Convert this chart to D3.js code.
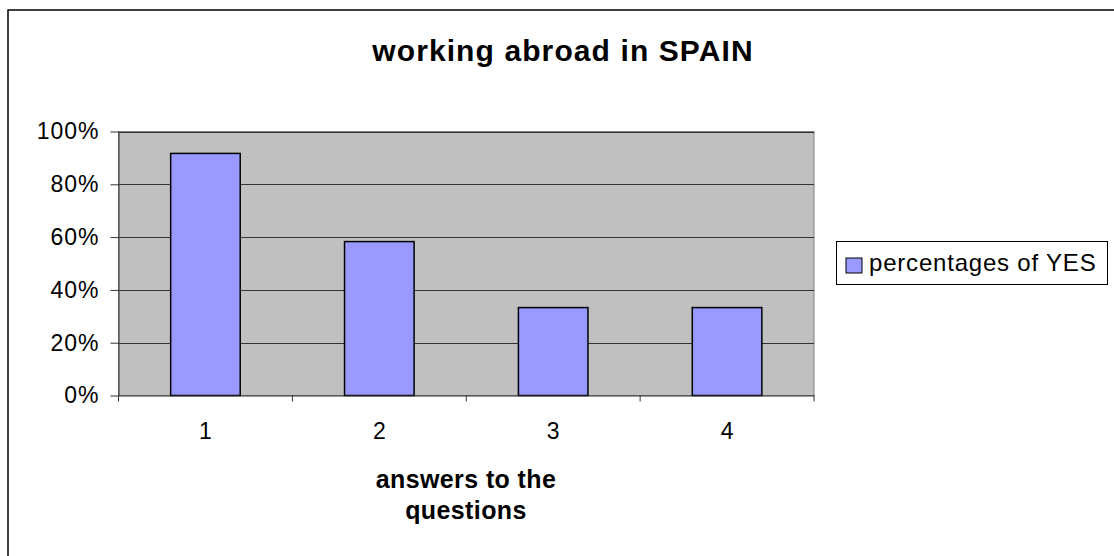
<!DOCTYPE html>
<html>
<head>
<meta charset="utf-8">
<script src="https://cdn.jsdelivr.net/npm/d3@7"></script>
<style>
  html, body { margin: 0; padding: 0; background: #fff; }
  svg { display: block; font-family: Arial, "Liberation Sans", sans-serif; }
</style>
</head>
<body>
<svg id="chart" width="1114" height="556"></svg>
<script>
const categories = ["1", "2", "3", "4"];
const yesValues = [0.917, 0.583, 0.333, 0.333];
const yTickValues = [0, 0.2, 0.4, 0.6, 0.8, 1.0];
const yTickLabels = ["0%", "20%", "40%", "60%", "80%", "100%"];
const seriesName = "percentages of YES";
const chartTitle = "working abroad in SPAIN";
const xTitleLines = ["answers to the", "questions"];

const svg = d3.select("#chart");
const plot = { left: 118.5, right: 814, top: 131.5, bottom: 395.5 };

// outer chart border (extends beyond the picture on right and bottom)
svg.append("rect")
  .attr("x", 8).attr("y", 10).attr("width", 1130).attr("height", 570)
  .attr("fill", "#fff").attr("stroke", "#000").attr("stroke-width", 1.5);

const x = d3.scaleBand().domain(categories)
  .range([plot.left, plot.right]).paddingInner(0.6).paddingOuter(0.3);
const y = d3.scaleLinear().domain([0, 1]).range([plot.bottom, plot.top]);

// plot area
svg.append("rect")
  .attr("x", plot.left).attr("y", plot.top)
  .attr("width", plot.right - plot.left).attr("height", plot.bottom - plot.top)
  .attr("fill", "#c0c0c0").attr("stroke", "#808080").attr("stroke-width", 1);

// gridlines
svg.append("g").selectAll("line").data(yTickValues.filter(v => v > 0)).join("line")
  .attr("x1", plot.left).attr("x2", plot.right)
  .attr("y1", d => Math.round(y(d)) + 0.5).attr("y2", d => Math.round(y(d)) + 0.5)
  .attr("stroke", "#333").attr("stroke-width", 1);

// bars
svg.append("g").selectAll("rect").data(categories).join("rect")
  .attr("x", d => x(d)).attr("width", x.bandwidth())
  .attr("y", (d, i) => y(yesValues[i]))
  .attr("height", (d, i) => y(0) - y(yesValues[i]))
  .attr("fill", "#9999ff").attr("stroke", "#000").attr("stroke-width", 1.5);

// y axis
const yAxis = d3.axisLeft(y).tickValues(yTickValues)
  .tickFormat((d, i) => yTickLabels[i]).tickSizeInner(8).tickSizeOuter(0).tickPadding(11);
const gy = svg.append("g").attr("transform", `translate(${plot.left},0)`).call(yAxis);
gy.select(".domain").attr("stroke", "#333");
gy.selectAll(".tick line").attr("stroke", "#333");
gy.selectAll(".tick text").attr("font-size", 23).attr("letter-spacing", 1).attr("fill", "#000")
  .attr("font-family", "Arial, 'Liberation Sans', sans-serif");

// x axis
const xAxis = d3.axisBottom(x).tickSize(0).tickPadding(27);
const gx = svg.append("g").attr("transform", `translate(0,${plot.bottom})`).call(xAxis);
gx.select(".domain").attr("stroke", "#333");
gx.selectAll(".tick text").attr("font-size", 23).attr("fill", "#000")
  .attr("font-family", "Arial, 'Liberation Sans', sans-serif");
// boundary tick marks between categories
const bounds = d3.range(categories.length + 1).map(i => plot.left + i * x.step());
gx.append("g").selectAll("line").data(bounds).join("line")
  .attr("x1", d => d).attr("x2", d => d).attr("y1", 0).attr("y2", 6)
  .attr("stroke", "#333");

// title
svg.append("text").attr("x", 563).attr("y", 61).attr("text-anchor", "middle")
  .attr("font-size", 30).attr("letter-spacing", 1.1).attr("font-weight", "bold").text(chartTitle);

// x axis title
svg.append("g").selectAll("text").data(xTitleLines).join("text")
  .attr("x", 466).attr("y", (d, i) => 488 + i * 31).attr("text-anchor", "middle")
  .attr("font-size", 25).attr("letter-spacing", 0.4).attr("font-weight", "bold").text(d => d);

// legend
const lg = svg.append("g");
lg.append("rect").attr("x", 836.5).attr("y", 241.5).attr("width", 271).attr("height", 43)
  .attr("fill", "#fff").attr("stroke", "#000").attr("stroke-width", 1);
lg.append("rect").attr("x", 846).attr("y", 258).attr("width", 16).attr("height", 15)
  .attr("fill", "#9999ff").attr("stroke", "#000").attr("stroke-width", 1);
lg.append("text").attr("x", 869).attr("y", 271).attr("font-size", 24).attr("letter-spacing", 0.8)
  .text(seriesName);
</script>
</body>
</html>
